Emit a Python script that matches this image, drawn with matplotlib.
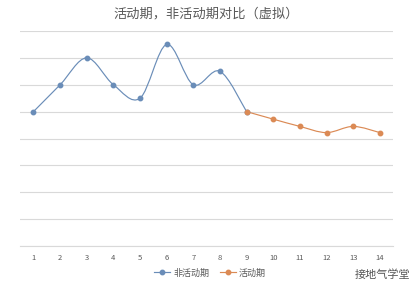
import matplotlib
matplotlib.use("Agg")
import matplotlib.pyplot as plt
from matplotlib.path import Path
from matplotlib.patches import PathPatch
from matplotlib.lines import Line2D

plt.rcParams['font.family'] = ['Noto Sans CJK SC', 'DejaVu Sans']

# data
categories = list(range(1, 15))
inactive_x = [1, 2, 3, 4, 5, 6, 7, 8, 9]
inactive_y = [5, 6, 7, 6, 5.5, 7.5, 6, 6.5, 5]
active_x = [9, 10, 11, 12, 13, 14]
active_y = [5, 4.72, 4.45, 4.22, 4.45, 4.22]

blue = '#6A8DB8'
orange = '#DB8A55'
grid_c = '#D9D9D9'
text_c = '#595959'


def smooth_path(xs, ys):
    # Excel style smoothed line: cubic bezier segments (catmull-rom, 1/6)
    pts = list(zip(xs, ys))
    verts = [pts[0]]
    codes = [Path.MOVETO]
    n = len(pts)
    for i in range(n - 1):
        p0 = pts[i - 1] if i > 0 else pts[i]
        p1 = pts[i]
        p2 = pts[i + 1]
        p3 = pts[i + 2] if i + 2 < n else pts[i + 1]
        c1 = (p1[0] + (p2[0] - p0[0]) / 6, p1[1] + (p2[1] - p0[1]) / 6)
        c2 = (p2[0] - (p3[0] - p1[0]) / 6, p2[1] - (p3[1] - p1[1]) / 6)
        verts += [c1, c2, p2]
        codes += [Path.CURVE4] * 3
    return Path(verts, codes)


fig = plt.figure(figsize=(4.2, 2.95), dpi=100)
ax = fig.add_axes([0.048, 0.166, 0.888, 0.729])

for xs, ys, c in [(inactive_x, inactive_y, blue), (active_x, active_y, orange)]:
    ax.add_patch(PathPatch(smooth_path(xs, ys), facecolor='none', edgecolor=c, lw=0.85, zorder=3))
    ax.plot(xs, ys, 'o', color=c, ms=3.2, zorder=4)

ax.set_xlim(0.5, 14.5)
ax.set_ylim(0, 8)
ax.set_yticks(range(0, 9))
ax.set_yticklabels([])
ax.set_xticks(categories)
ax.set_xticklabels([str(c) for c in categories], fontsize=5.5, color=text_c)
ax.tick_params(length=0, pad=6)
ax.tick_params(axis='y', left=False)
ax.grid(axis='y', color=grid_c, lw=0.8)
for s in ['top', 'right', 'left']:
    ax.spines[s].set_visible(False)
ax.spines['bottom'].set_color(grid_c)
ax.spines['bottom'].set_linewidth(0.8)

ax.set_title('活动期，非活动期对比（虚拟）', fontsize=9.5, color=text_c, pad=10)

handles = [Line2D([], [], color=blue, marker='o', ms=3.2, lw=0.85),
           Line2D([], [], color=orange, marker='o', ms=3.2, lw=0.85)]
fig.legend(handles, ['非活动期', '活动期'], loc='center', bbox_to_anchor=(0.5, 0.075),
           ncol=2, frameon=False, fontsize=6.5, labelcolor=text_c,
           handlelength=1.8, columnspacing=1.2, handletextpad=0.3)

fig.text(0.91, 0.07, '接地气学堂', fontsize=8, color='#555555', ha='center', va='center')

fig.savefig('out.png', dpi=100, facecolor='white')
